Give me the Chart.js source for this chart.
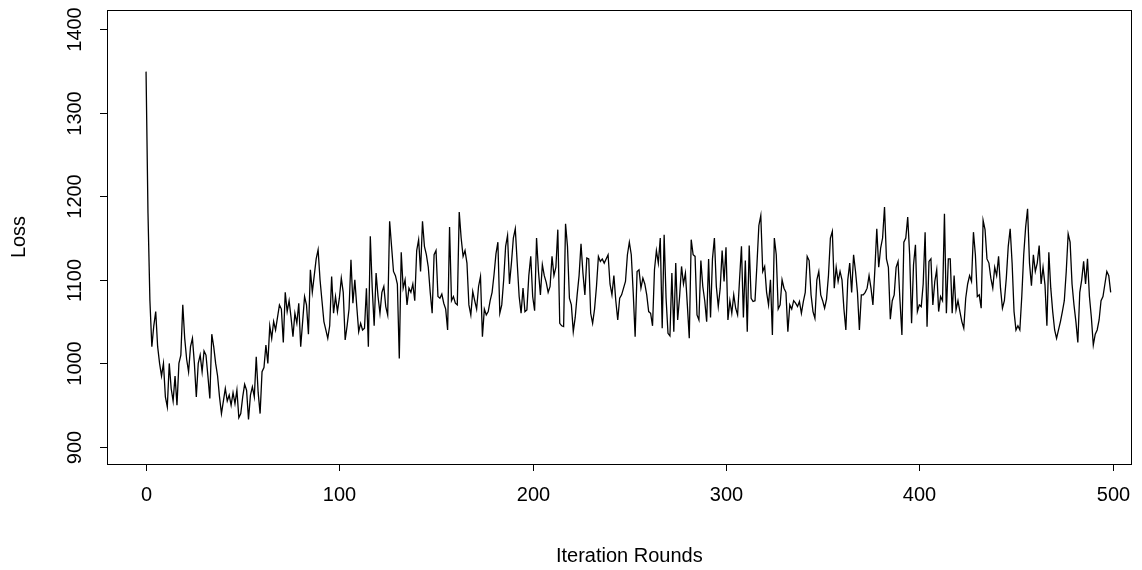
<!DOCTYPE html>
<html>
<head>
<meta charset="utf-8">
<script src="https://cdn.jsdelivr.net/npm/chart.js@4.4.0/dist/chart.umd.min.js"></script>
<style>
  html, body { margin: 0; padding: 0; background: #fff; }
  canvas { display: block; }
</style>
</head>
<body>
<canvas id="lossChart" width="1142" height="570"></canvas>
<script>
// loss per iteration (iterations 0..499)
const loss = [
  1349,1180,1075,1020,1045,1062,1020,1000,985,1000,960,948,1000,970,955,985,950,1000,1010,1070,
  1030,1005,990,1020,1030,1000,960,1000,1010,990,1015,1010,985,958,1035,1020,1000,985,960,940,
  955,970,955,962,950,965,952,968,935,940,960,975,968,933,962,972,960,1008,965,940,
  990,995,1022,1000,1045,1030,1050,1040,1055,1070,1065,1025,1085,1062,1075,1055,1032,1060,1048,1072,
  1020,1050,1080,1070,1035,1112,1085,1105,1125,1136,1100,1075,1050,1040,1030,1045,1104,1060,1080,1062,
  1078,1102,1085,1028,1045,1065,1124,1072,1100,1068,1038,1048,1040,1042,1090,1020,1152,1090,1045,1108,
  1080,1060,1085,1092,1068,1058,1170,1140,1110,1105,1095,1006,1133,1090,1100,1070,1090,1085,1095,1075,
  1135,1148,1110,1170,1140,1130,1115,1085,1060,1130,1135,1080,1078,1083,1072,1065,1040,1163,1075,1080,
  1072,1070,1181,1150,1128,1135,1120,1070,1058,1086,1075,1065,1092,1104,1032,1065,1058,1062,1075,1085,
  1106,1131,1145,1060,1070,1100,1140,1153,1095,1120,1150,1161,1120,1080,1060,1090,1062,1064,1105,1128,
  1080,1063,1150,1110,1082,1118,1105,1097,1085,1092,1128,1105,1115,1160,1048,1045,1044,1167,1140,1078,
  1070,1038,1055,1082,1105,1143,1108,1082,1126,1125,1060,1048,1065,1092,1128,1122,1125,1120,1125,1130,
  1095,1082,1105,1075,1052,1078,1082,1090,1098,1130,1145,1130,1085,1032,1110,1112,1090,1102,1095,1082,
  1062,1060,1045,1112,1135,1120,1150,1042,1154,1078,1036,1033,1108,1038,1120,1052,1080,1116,1095,1108,
  1070,1030,1148,1130,1128,1058,1052,1123,1092,1075,1050,1125,1055,1125,1150,1092,1068,1090,1135,1098,
  1139,1052,1075,1060,1082,1066,1058,1100,1140,1055,1123,1038,1141,1078,1074,1075,1118,1165,1177,1110,
  1116,1085,1070,1100,1034,1150,1130,1065,1070,1100,1090,1085,1038,1070,1065,1075,1072,1068,1074,1060,
  1074,1085,1128,1123,1082,1062,1054,1100,1110,1082,1075,1066,1077,1105,1150,1158,1090,1115,1098,1110,
  1100,1065,1040,1100,1120,1085,1130,1110,1085,1040,1082,1082,1085,1090,1105,1090,1070,1112,1161,1115,
  1138,1150,1187,1125,1115,1053,1075,1082,1115,1122,1075,1034,1145,1150,1175,1130,1048,1118,1142,1062,
  1070,1068,1095,1157,1044,1122,1125,1070,1098,1112,1062,1080,1075,1179,1060,1125,1125,1060,1105,1064,
  1075,1062,1050,1042,1078,1095,1105,1098,1157,1130,1080,1082,1066,1171,1160,1125,1120,1102,1090,1115,
  1105,1128,1090,1066,1075,1102,1140,1161,1120,1062,1040,1045,1040,1080,1130,1163,1185,1120,1093,1130,
  1110,1120,1141,1095,1115,1094,1045,1133,1090,1062,1040,1030,1040,1050,1062,1075,1110,1155,1145,1095,
  1070,1050,1025,1085,1100,1122,1095,1125,1080,1055,1022,1035,1040,1052,1075,1080,1095,1110,1105,1085
];
const xTicks = [0, 100, 200, 300, 400, 500];
const yTicks = [900, 1000, 1100, 1200, 1300, 1400];
const xTitle = "Iteration Rounds";
const yTitle = "Loss";

const FONT = '20px "Liberation Sans", Arial, sans-serif';

// box, outward ticks and rotated y labels, like base R graphics
const baseAxes = {
  id: 'baseAxes',
  afterDraw(chart) {
    const { ctx, chartArea: a, scales: { x, y } } = chart;
    ctx.save();
    ctx.strokeStyle = '#000';
    ctx.fillStyle = '#000';
    ctx.lineWidth = 1;
    ctx.strokeRect(a.left + 0.5, a.top + 0.5, a.right - a.left, a.bottom - a.top);

    ctx.font = FONT;
    ctx.textAlign = 'center';
    ctx.textBaseline = 'middle';

    xTicks.forEach(v => {
      const px = Math.round(x.getPixelForValue(v)) + 0.5;
      ctx.beginPath();
      ctx.moveTo(px, a.bottom);
      ctx.lineTo(px, a.bottom + 7);
      ctx.stroke();
      ctx.fillText(String(v), px, a.bottom + 31);
    });

    yTicks.forEach(v => {
      const py = Math.round(y.getPixelForValue(v)) + 0.5;
      ctx.beginPath();
      ctx.moveTo(a.left - 7, py);
      ctx.lineTo(a.left, py);
      ctx.stroke();
      ctx.save();
      ctx.translate(a.left - 32, py);
      ctx.rotate(-Math.PI / 2);
      ctx.fillText(String(v), 0, 0);
      ctx.restore();
    });

    // title sits under the middle of the 0..500 range, as in the original
    ctx.fillText(xTitle, x.getPixelForValue(250), a.bottom + 92);
    ctx.save();
    ctx.translate(19, (a.top + a.bottom) / 2);
    ctx.rotate(-Math.PI / 2);
    ctx.fillText(yTitle, 0, 0);
    ctx.restore();
    ctx.restore();
  }
};

const ctx = document.getElementById('lossChart').getContext('2d');
new Chart(ctx, {
  type: 'line',
  data: {
    datasets: [{
      label: yTitle,
      data: loss.map((v, i) => ({ x: i, y: v })),
      borderColor: '#000',
      borderWidth: 1.3,
      pointRadius: 0,
      tension: 0,
      fill: false
    }]
  },
  options: {
    responsive: false,
    animation: false,
    layout: { padding: { left: 107, right: 11, top: 10, bottom: 106 } },
    plugins: { legend: { display: false }, tooltip: { enabled: false } },
    scales: {
      x: { type: 'linear', display: false, min: -20.2, max: 509.5 },
      y: { type: 'linear', display: false, min: 879.7, max: 1422.7 }
    }
  },
  plugins: [baseAxes]
});
</script>
</body>
</html>
